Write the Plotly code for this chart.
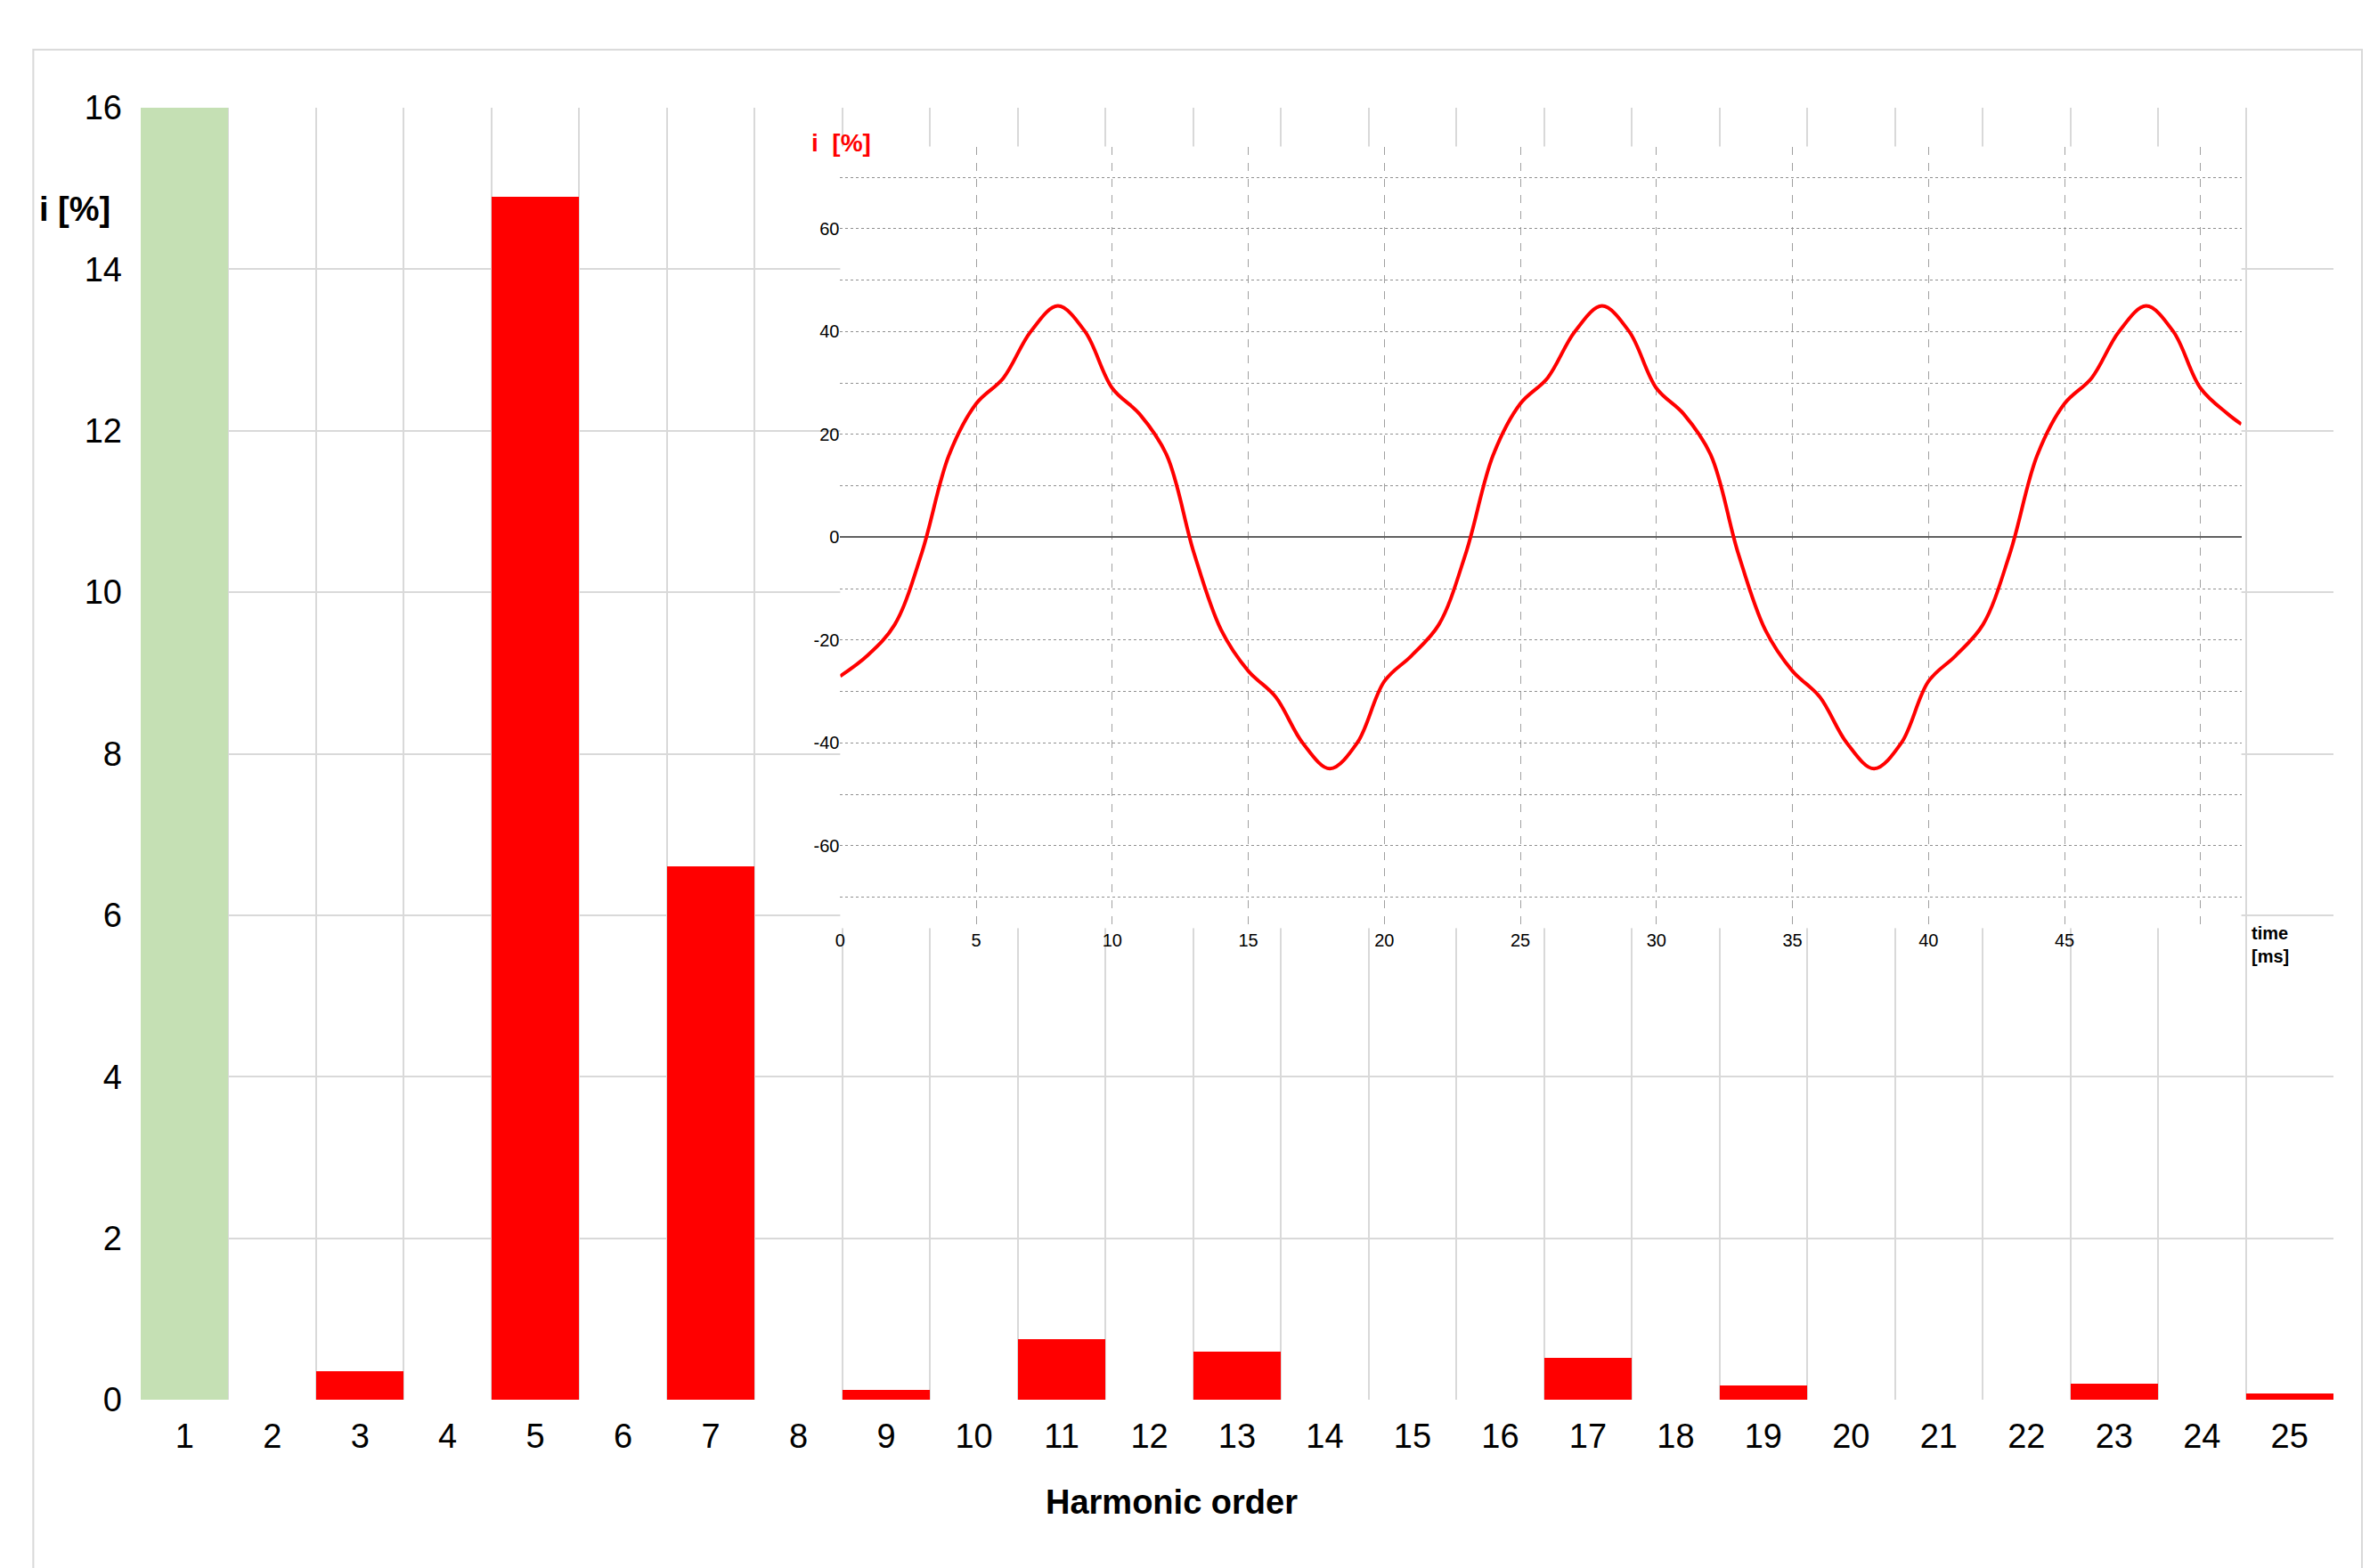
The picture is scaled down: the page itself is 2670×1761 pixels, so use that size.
import plotly.graph_objects as go

harmonics = list(range(1, 26))
values = [16, 0, 0.35, 0, 14.9, 0, 6.6, 0, 0.12, 0, 0.75, 0, 0.6, 0, 0, 0, 0.52, 0, 0.18, 0, 0, 0, 0.2, 0, 0.08]
colors = ["#c5e0b4"] + ["#ff0000"] * 24

time_ms = list(range(0, 52)) + [51.5]
current = [-27, -23, -17, -3, 16, 26, 31, 40, 45, 40, 29, 24, 16, -3, -18, -26, -31, -40, -45, -40,
           -28, -23, -17, -3, 16, 26, 31, 40, 45, 40, 29, 24, 16, -3, -18, -26, -31, -40, -45, -40,
           -28, -23, -17, -3, 16, 26, 31, 40, 45, 40, 29, 24, 22]

ytick_vals = [0, 2, 4, 6, 8, 10, 12, 14, 16]
inset_y = list(range(-70, 80, 10))
inset_y_text = [str(v) if v % 20 == 0 and abs(v) <= 60 else "" for v in inset_y]
inset_x = list(range(0, 55, 5))

F = "Liberation Sans"
fig = go.Figure()
fig.add_trace(go.Bar(x=harmonics, y=values, marker=dict(color=colors, line=dict(width=0)),
                     xaxis="x", yaxis="y", showlegend=False))
fig.add_trace(go.Scatter(x=time_ms, y=current, mode="lines", line=dict(color="#ff0000", width=4, shape="spline"),
                         xaxis="x2", yaxis="y2", showlegend=False))

fig.update_layout(
    width=2670, height=1761, paper_bgcolor="white", plot_bgcolor="white",
    margin=dict(l=150, r=58, t=113, b=197), bargap=0,
    font=dict(family=F, color="black"),
    xaxis=dict(range=[0.5, 25.5], tickvals=harmonics, showgrid=False, zeroline=False,
               tickfont=dict(size=38, family=F + ", bold", color="black"), ticks="", ticklabelstandoff=15,
               minor=dict(tickvals=[h + 0.5 for h in range(0, 26)], showgrid=True, gridcolor="#d9d9d9", gridwidth=2),
               domain=[0, 1]),
    yaxis=dict(range=[0, 16], tickvals=ytick_vals, showgrid=True, gridcolor="#d9d9d9", gridwidth=2,
               zeroline=False, tickfont=dict(size=38, color="black"), ticklabelstandoff=20),
    xaxis2=dict(domain=[0.319, 0.958], anchor="y2", range=[0, 51.5], tickvals=inset_x,
                ticktext=[str(v) for v in inset_x[:-1]] + [""],
                showgrid=True, griddash="dash", gridcolor="#a0a0a0", gridwidth=1, zeroline=False,
                tickfont=dict(size=20, color="black"), ticks=""),
    yaxis2=dict(domain=[0.365, 0.97], anchor="x2", range=[-76, 76], tickvals=inset_y, ticktext=inset_y_text,
                showgrid=True, griddash="dot", gridcolor="#909090", gridwidth=1, zeroline=True,
                zerolinecolor="#606060", zerolinewidth=2, tickfont=dict(size=20, color="black"), ticks=""),
    shapes=[
        dict(type="rect", xref="paper", yref="paper", x0=0.279, x1=0.995, y0=0.312, y1=0.985,
             fillcolor="white", line=dict(width=0), layer="below"),
        dict(type="rect", xref="paper", yref="paper", x0=-0.049, x1=1.013, y0=-0.132, y1=1.045,
             fillcolor="rgba(0,0,0,0)", line=dict(color="#d9d9d9", width=2)),
    ],
    annotations=[
        dict(text="<b>i [%]</b>", xref="paper", yref="paper", x=-0.047, y=0.937, xanchor="left",
             showarrow=False, font=dict(size=38)),
        dict(text="<b>Harmonic order</b>", xref="paper", yref="paper", x=0.47, y=-0.095,
             showarrow=False, font=dict(size=38)),
        dict(text="<b>i  [%]</b>", xref="paper", yref="paper", x=0.305, y=0.985, xanchor="left",
             showarrow=False, font=dict(size=28, color="#ff0000")),
        dict(text="<b>time<br>[ms]</b>", xref="paper", yref="paper", x=0.962, y=0.37, xanchor="left",
             yanchor="top", align="left", showarrow=False, font=dict(size=20)),
    ],
)
fig.update_xaxes(tickfont_family=F)
fig.write_html("out.html")
